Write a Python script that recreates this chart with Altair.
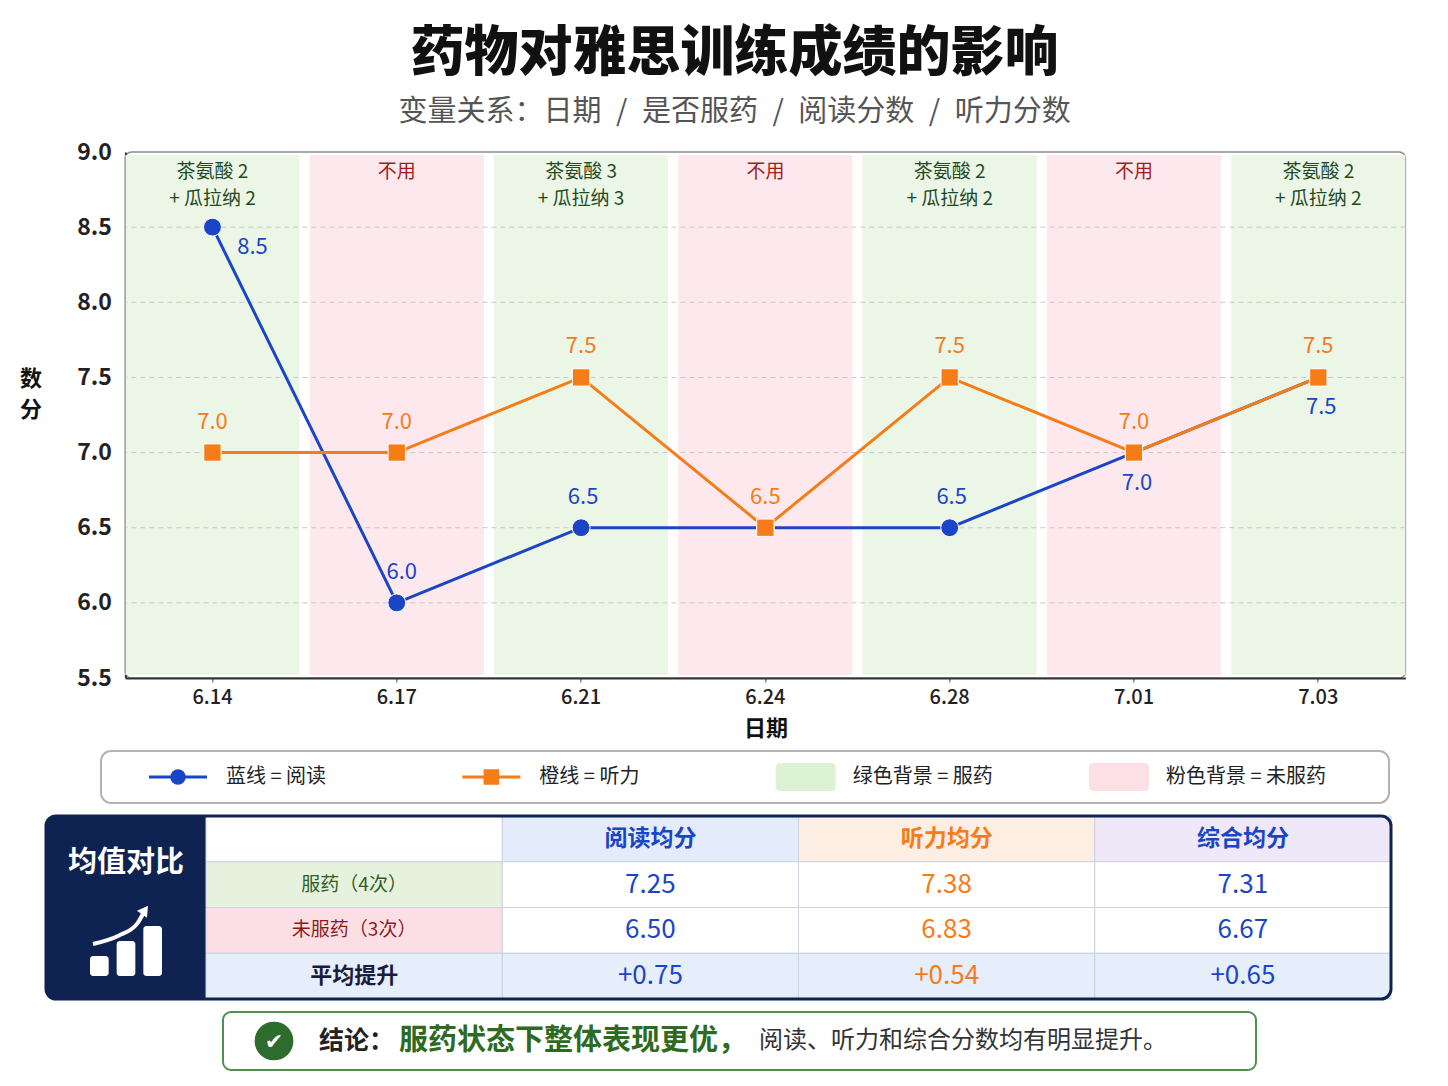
import altair as alt
import pandas as pd

FONT = "Noto Sans CJK SC"
BLUE = "#1a45c6"
ORANGE = "#f57c17"
PURPLE = "#6a2c9f"
NAVY = "#0f2352"

# ---- data ----
dates = ["6.14", "6.17", "6.21", "6.24", "6.28", "7.01", "7.03"]
took_medicine = [True, False, True, False, True, False, True]
dose_labels = ["茶氨酸 2\n+ 瓜拉纳 2", "不用", "茶氨酸 3\n+ 瓜拉纳 3", "不用",
               "茶氨酸 2\n+ 瓜拉纳 2", "不用", "茶氨酸 2\n+ 瓜拉纳 2"]
reading = [8.5, 6.0, 6.5, 6.5, 6.5, 7.0, 7.5]
listening = [7.0, 7.0, 7.5, 6.5, 7.5, 7.0, 7.5]
y_ticks = [5.5, 6.0, 6.5, 7.0, 7.5, 8.0, 8.5, 9.0]

legend_labels = ["蓝线 = 阅读", "橙线 = 听力", "绿色背景 = 服药", "粉色背景 = 未服药"]

table_columns = ["阅读均分", "听力均分", "综合均分"]
table_rows = ["服药（4次）", "未服药（3次）", "平均提升"]
reading_means = [7.25, 6.50]
listening_means = [7.38, 6.83]
combined_means = [7.31, 6.67]
improvements = [0.75, 0.54, 0.65]

panel_title = "均值对比"
icon_bars = [1, 2, 3]
icon_arrow_x = [0.0, 0.5, 0.85, 1.0]
icon_arrow_y = [0.0, 0.25, 0.6, 1.0]

conclusion_parts = ["结论：", "服药状态下整体表现更优，", "阅读、听力和综合分数均有明显提升。"]

# ---- main line chart ----
W, H = 1280, 526
days = pd.DataFrame({
    "date": dates,
    "med": ["服药" if m else "未服药" for m in took_medicine],
    "dose": dose_labels,
    "reading": reading,
    "listening": listening,
})
is_med = alt.datum.med == "服药"

x_axis = alt.Axis(title="日期", labelAngle=0, labelFontSize=20, labelFontWeight=500,
                  labelColor="#222", labelPadding=5, tickSize=4, tickColor="#444",
                  domainColor="#333", domainWidth=2, titleFontSize=22, titleFontWeight="bold",
                  titleColor="#111", titlePadding=11, grid=False)
x_enc = alt.X("date:N", scale=alt.Scale(domain=dates, paddingInner=0.055, paddingOuter=0),
              axis=x_axis)
y_scale = alt.Scale(domain=[5.5, 9.0], nice=False, zero=False)
y_axis = alt.Axis(values=y_ticks, format=".1f", title=["数", "分"], titleAngle=0,
                  titleX=-95, titleY=216, titleAlign="center", titleBaseline="top",
                  titleFontSize=22, titleFontWeight="bold", titleLineHeight=31,
                  titleColor="#111", labelFontSize=23, labelFontWeight="bold",
                  labelColor="#222", labelPadding=14, ticks=False, domainColor="#333",
                  domainWidth=2, grid=False)


def y_enc(field):
    return alt.Y(field, type="quantitative", scale=y_scale, axis=y_axis)


base = alt.Chart(days)

bands = base.mark_rect().encode(
    x=x_enc, y=alt.value(3), y2=alt.value(H - 3),
    color=alt.condition(is_med, alt.value("#ecf6e7"), alt.value("#fde9ed")),
)

grid = alt.Chart(pd.DataFrame({"v": y_ticks[1:-1]})).mark_rule(
    color="#c8c8c8", strokeDash=[5, 4], strokeWidth=1
).encode(y=y_enc("v"))

blue_line = base.mark_line(color=BLUE, strokeWidth=3).encode(x=x_enc, y=y_enc("reading"))
blue_pts = base.mark_point(shape="circle", filled=True, size=320, color=BLUE, opacity=1,
                           stroke="white", strokeWidth=1).encode(x=x_enc, y=y_enc("reading"))
orange_line = base.mark_line(color=ORANGE, strokeWidth=3).encode(x=x_enc, y=y_enc("listening"))
orange_pts = base.mark_point(shape="square", filled=True, size=300, color=ORANGE, opacity=1,
                             stroke="white", strokeWidth=1).encode(x=x_enc, y=y_enc("listening"))


def value_labels(field, color, which, dy, dx=0):
    return base.transform_filter(
        alt.FieldOneOfPredicate(field="date", oneOf=which)
    ).mark_text(color=color, fontSize=22, dx=dx, dy=dy).encode(
        x=x_enc, y=y_enc(field), text=alt.Text(f"{field}:Q", format=".1f")
    )


labels = [
    value_labels("reading", BLUE, ["6.14"], 20, 40),
    value_labels("reading", BLUE, ["6.17"], -31, 5),
    value_labels("reading", BLUE, ["6.21", "6.28"], -31, 2),
    value_labels("reading", BLUE, ["7.01", "7.03"], 30, 3),
    value_labels("listening", ORANGE, dates, -31),
]

dose = base.mark_text(lineBreak="\n", fontSize=19, baseline="top", lineHeight=27).encode(
    x=x_enc, y=alt.value(11), text="dose:N",
    color=alt.condition(is_med, alt.value("#1f4a1f"), alt.value("#a01c1c")),
)

main = alt.layer(bands, grid, blue_line, blue_pts, orange_line, orange_pts, *labels, dose).properties(
    width=W, height=H,
    view=alt.ViewBackground(fill="white", stroke="#8d8d8d", strokeWidth=1.5, cornerRadius=6),
)

# the blocks below share the main plot's width, so they line up under it
no_view = alt.ViewBackground(stroke=None, strokeWidth=0, fill=None)
one_row = pd.DataFrame({"k": [0]})

# ---- legend box ----
LH = 52
leg = pd.DataFrame({"i": list(range(4)), "label": legend_labels})
lx = alt.X("i:Q", scale=alt.Scale(domain=[0, 3], range=[23, 963]), axis=None)
leg_base = alt.Chart(leg)
leg_frame = alt.Chart(one_row).mark_rect(fill="white", stroke="#b3b3b3", strokeWidth=2,
                                         cornerRadius=10).encode(
    x=alt.value(-25), x2=alt.value(1263), y=alt.value(0), y2=alt.value(LH))
series_items = leg_base.transform_filter(alt.datum.i < 2)
series_color = alt.Color("label:N", scale=alt.Scale(domain=legend_labels[:2], range=[BLUE, ORANGE]),
                         legend=None)
glyph_line = series_items.mark_rule(strokeWidth=3, x2Offset=58).encode(
    x=lx, x2="i:Q", y=alt.value(LH / 2), color=series_color)
glyph_pt = series_items.mark_point(filled=True, opacity=1, size=240, xOffset=29).encode(
    x=lx, y=alt.value(LH / 2), color=series_color,
    shape=alt.Shape("label:N", scale=alt.Scale(domain=legend_labels[:2], range=["circle", "square"]),
                    legend=None))
swatch = leg_base.transform_filter(alt.datum.i >= 2).mark_rect(cornerRadius=4, x2Offset=60).encode(
    x=lx, x2="i:Q", y=alt.value(12), y2=alt.value(40),
    fill=alt.Fill("label:N", scale=alt.Scale(domain=legend_labels[2:], range=["#dcf2d2", "#fde0e6"]),
                  legend=None))
leg_text = leg_base.mark_text(align="left", dx=77, fontSize=20, color="#222").encode(
    x=lx, y=alt.value(LH / 2), text="label:N")

legend = alt.layer(leg_frame, glyph_line, glyph_pt, swatch, leg_text).properties(
    width=W, height=LH, view=no_view)

# ---- mean comparison table ----
TH = 183
T_LEFT, T_SPLIT, T_RIGHT = -80, 80, 1265
col_keys = ["项目"] + table_columns
row_keys = ["表头"] + table_rows
header_fill = {"项目": "white", "阅读均分": "#e4ecfb", "听力均分": "#fdeee4", "综合均分": "#efe8f8"}
row_fill = {"服药（4次）": "#e6f2de", "未服药（3次）": "#fcdfe5", "平均提升": "#e6eefb"}
cells = []
for r in row_keys:
    for c in col_keys:
        if r == "表头":
            f = header_fill[c]
        elif r == "平均提升" or c == "项目":
            f = row_fill[r]
        else:
            f = "white"
        cells.append({"row": r, "col": c, "fill": f})
cells = pd.DataFrame(cells)

vals = []
for c, s in zip(table_columns, [reading_means, listening_means, combined_means]):
    for k in range(2):
        vals.append({"row": table_rows[k], "col": c, "text": f"{s[k]:.2f}"})
for c, d in zip(table_columns, improvements):
    vals.append({"row": table_rows[2], "col": c, "text": f"+{d:.2f}"})
vals = pd.DataFrame(vals)

tx = alt.X("col:N", scale=alt.Scale(domain=col_keys, range=[T_SPLIT, T_RIGHT],
                                    paddingInner=0, paddingOuter=0), axis=None)
ty = alt.Y("row:N", scale=alt.Scale(domain=row_keys, paddingInner=0, paddingOuter=0), axis=None)
col_color = alt.Color("col:N", scale=alt.Scale(domain=table_columns, range=[BLUE, "#f07a1c", PURPLE]),
                      legend=None)

navy_back = alt.Chart(one_row).mark_rect(fill=NAVY, cornerRadius=10).encode(
    x=alt.value(T_LEFT), x2=alt.value(T_RIGHT), y=alt.value(0), y2=alt.value(TH))
cell_rect = alt.Chart(cells).mark_rect(stroke="#cdd4e0", strokeWidth=1).encode(
    x=tx, y=ty, fill=alt.Fill("fill:N", scale=None))
navy_frame = alt.Chart(one_row).mark_rect(fill="transparent", stroke=NAVY, strokeWidth=3,
                                          cornerRadius=10).encode(
    x=alt.value(T_LEFT), x2=alt.value(T_RIGHT), y=alt.value(0), y2=alt.value(TH))
head_text = alt.Chart(pd.DataFrame({"col": table_columns, "row": "表头"})).mark_text(
    fontSize=23, fontWeight=600).encode(x=tx, y=ty, text="col:N", color=col_color)
row_text = alt.Chart(pd.DataFrame({"row": table_rows[:2], "col": "项目"})).mark_text(fontSize=19).encode(
    x=tx, y=ty, text="row:N",
    color=alt.condition(alt.datum.row == table_rows[0], alt.value("#2f5e1f"), alt.value("#8c1c1c")))
gain_head = alt.Chart(pd.DataFrame({"row": table_rows[2:], "col": "项目"})).mark_text(
    fontSize=22, fontWeight="bold", color="#1b1b3b").encode(x=tx, y=ty, text="row:N")
val_text = alt.Chart(vals).mark_text(fontSize=26).encode(
    x=tx, y=ty, text="text:N", color=col_color)

panel_text = alt.Chart(pd.DataFrame({"t": [panel_title]})).mark_text(
    fontSize=29, fontWeight="bold", color="white").encode(
    x=alt.value((T_LEFT + T_SPLIT) / 2), y=alt.value(47), text="t:N")
icon = alt.Chart(pd.DataFrame({"h": icon_bars})).mark_rect(color="white", cornerRadius=3).encode(
    x=alt.X("h:O", scale=alt.Scale(range=[-36, 36], paddingInner=0.3, paddingOuter=0), axis=None),
    y=alt.Y("h:Q", scale=alt.Scale(domain=[-0.33, 3], range=[160, 110]), axis=None),
    y2=alt.value(160))
ax = alt.X("ax:Q", scale=alt.Scale(domain=[0, 1], range=[-33, 19]), axis=None)
ay = alt.Y("ay:Q", scale=alt.Scale(domain=[0, 1], range=[128, 94]), axis=None)
arrow_df = pd.DataFrame({"ax": icon_arrow_x, "ay": icon_arrow_y})
arrow = alt.Chart(arrow_df).mark_line(color="white", strokeWidth=4, interpolate="monotone").encode(
    x=ax, y=ay, order="ax:Q")
head = alt.Chart(arrow_df.tail(1)).mark_point(shape="triangle-up", filled=True, color="white",
                                              opacity=1, size=150, angle=35).encode(x=ax, y=ay)

table = alt.layer(navy_back, cell_rect, navy_frame, head_text, row_text, gain_head, val_text,
                  panel_text, icon, arrow, head).resolve_scale(
    x="independent", y="independent").properties(width=W, height=TH, view=no_view)

# ---- conclusion box ----
CH = 58
C_LEFT, C_RIGHT = 97, 1130
c_frame = alt.Chart(one_row).mark_rect(fill="white", stroke="#4f8f4f", strokeWidth=2,
                                       cornerRadius=8).encode(
    x=alt.value(C_LEFT), x2=alt.value(C_RIGHT), y=alt.value(0), y2=alt.value(CH))
badge = alt.Chart(pd.DataFrame({"t": ["✔"]}))
badge_circle = badge.mark_circle(size=1500, color="#2d6c2d", opacity=1).encode(
    x=alt.value(C_LEFT + 51), y=alt.value(CH / 2))
badge_check = badge.mark_text(font="DejaVu Sans", fontSize=22, fontWeight="bold", color="white").encode(
    x=alt.value(C_LEFT + 51), y=alt.value(CH / 2 + 1), text="t:N")
run_styles = [(96, 25, "bold", "#222"), (176, 29, "bold", "#2e6a1f"), (536, 24, "normal", "#333")]
runs = [
    alt.Chart(pd.DataFrame({"t": [txt]})).mark_text(
        align="left", fontSize=fs, fontWeight=fw, color=colr).encode(
        x=alt.value(C_LEFT + xp), y=alt.value(CH / 2), text="t:N")
    for txt, (xp, fs, fw, colr) in zip(conclusion_parts, run_styles)
]
conclusion = alt.layer(c_frame, badge_circle, badge_check, *runs).properties(
    width=W, height=CH, view=no_view)

chart = alt.vconcat(main, legend, table, conclusion, spacing=10, center=True).properties(
    padding={"top": 20, "bottom": 2, "left": 10, "right": 5},
    title=alt.TitleParams(
        text="药物对雅思训练成绩的影响",
        subtitle="变量关系：日期\u2002/\u2002是否服药\u2002/\u2002阅读分数\u2002/\u2002听力分数",
        fontSize=54, fontWeight=900, color="#111", font=FONT,
        subtitleFont=FONT, subtitleFontSize=29, subtitleColor="#555",
        subtitlePadding=16, offset=13, anchor="middle", dx=22,
    ),
).configure(font=FONT)

chart.save("out.html", embed_options={"renderer": "svg", "actions": False})
